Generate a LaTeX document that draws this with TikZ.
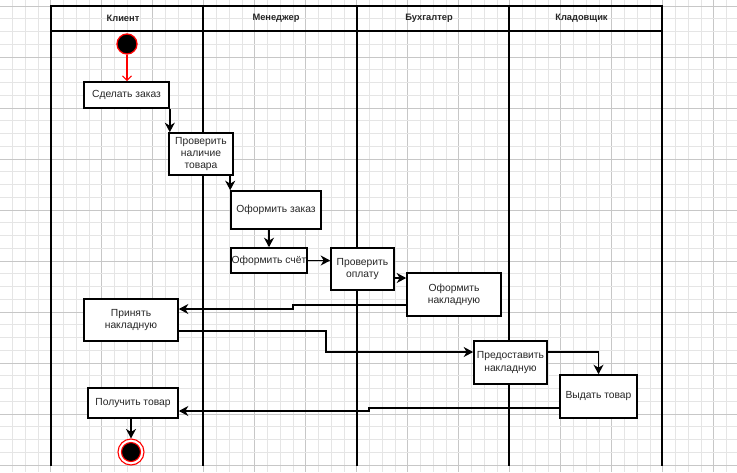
\documentclass[tikz,border=0pt]{standalone}
\usepackage{fontspec}
\setmainfont{Liberation Sans}
\usetikzlibrary{arrows.meta}
\tikzset{
  gridminor/.style={draw=black!10, line width=0.6pt},
  gridmajor/.style={draw=black!22, line width=0.6pt},
  lane/.style={line width=1.6pt},
  lanetitle/.style={font=\fontsize{9.3}{11}\selectfont\bfseries, text=black!85},
  actbox/.style={draw, line width=1.6pt, fill=white, inner sep=0pt, align=center,
    font=\fontsize{10.3}{12.3}\selectfont, text=black!85},
  arr/.style={line width=1.6pt, -{Stealth[length=9.5pt,width=10pt,inset=3pt]}},
  redarr/.style={draw=red, line width=1.2pt, -{Straight Barb[length=4.5pt,width=9pt]}},
}
\begin{document}
\begin{tikzpicture}[x=1pt,y=-1pt]
\useasboundingbox (0,0) rectangle (737,472);
\fill[white] (0,0) rectangle (737,472);
% grid
\foreach \k in {-3,...,53}{
  \pgfmathtruncatemacro{\m}{mod(\k+12,4)}
  \ifnum\m=0 \draw[gridmajor] ({50.6+12.75*\k},0) -- ({50.6+12.75*\k},472);
  \else \draw[gridminor] ({50.6+12.75*\k},0) -- ({50.6+12.75*\k},472); \fi
}
\foreach \k in {0,...,36}{
  \pgfmathtruncatemacro{\m}{mod(\k,4)}
  \ifnum\m=0 \draw[gridmajor] (0,{6+12.75*\k}) -- (737,{6+12.75*\k});
  \else \draw[gridminor] (0,{6+12.75*\k}) -- (737,{6+12.75*\k}); \fi
}
% lanes
\draw[lane] (51,6) rectangle (662,31);
\foreach \x in {51,203,357,509,662}{ \draw[lane] (\x,6) -- (\x,466); }
\node[lanetitle] (t1) at (123,18.5) {Клиент};
\node[lanetitle] (t2) at (276,18.5) {Менеджер};
\node[lanetitle] (t3) at (429,18.5) {Бухгалтер};
\node[lanetitle] (t4) at (581.5,18.5) {Кладовщик};
% start / end
\node[circle, draw=red, fill=black, line width=1.3pt, minimum size=20pt, inner sep=0pt] (start) at (127,44) {};
\node[circle, draw=red, fill=white, line width=1.1pt, minimum size=26pt, inner sep=0pt] (end) at (131,452) {};
\node[circle, draw=red, fill=black, line width=1.1pt, minimum size=19pt, inner sep=0pt] (endin) at (end) {};
% activities
\node[actbox, minimum width=85pt, minimum height=26pt] (zakaz) at (126.5,95) {Сделать заказ};
\node[actbox, minimum width=64pt, minimum height=42pt] (nal) at (201,154) {Проверить\\наличие\\товара};
\node[actbox, minimum width=90pt, minimum height=38pt] (ofz) at (276,210) {Оформить заказ};
\node[actbox, minimum width=76pt, minimum height=25pt] (sch) at (269,260.5) {Оформить счёт};
\node[actbox, minimum width=63pt, minimum height=42pt] (pay) at (362.5,269) {Проверить\\оплату};
\node[actbox, minimum width=94pt, minimum height=43pt] (nakl) at (454,294.5) {Оформить\\накладную};
\node[actbox, minimum width=94pt, minimum height=42pt] (prin) at (131,320) {Принять\\накладную};
\node[actbox, minimum width=73pt, minimum height=43pt] (pred) at (510.5,362.5) {Предоставить\\накладную};
\node[actbox, minimum width=77pt, minimum height=43pt] (vyd) at (598.5,396.5) {Выдать товар};
\node[actbox, minimum width=90pt, minimum height=30pt] (pol) at (133,403) {Получить товар};
% connector ports
\coordinate (payout) at ([yshift=-9pt]pay.east);
% connectors
\draw[redarr] (start.south) -- (start.south |- zakaz.north);
\draw[arr] (zakaz.south east) -- (zakaz.south east |- nal.north);
\draw[arr] (ofz.north west |- nal.south) -- (ofz.north west);
\draw[arr] (sch.north |- ofz.south) -- (sch.north);
\draw[arr] (sch.east) -- (pay.west |- sch.east);
\draw[arr] (payout) -- (nakl.west |- payout);
\draw[arr] ([yshift=-10.5pt]nakl.west) -| (293,307) |- ([yshift=11pt]prin.east);
\draw[arr] ([yshift=-11pt]prin.east) -| (326,340) |- ([yshift=10.5pt]pred.west);
\draw[arr] ([yshift=10.5pt]pred.east) -| (vyd.north);
\draw[arr] ([yshift=-11.5pt]vyd.west) -| (369,409.5) |- ([yshift=-8pt]pol.east);
\draw[arr] (end.north |- pol.south) -- (end.north);
\end{tikzpicture}
\end{document}
